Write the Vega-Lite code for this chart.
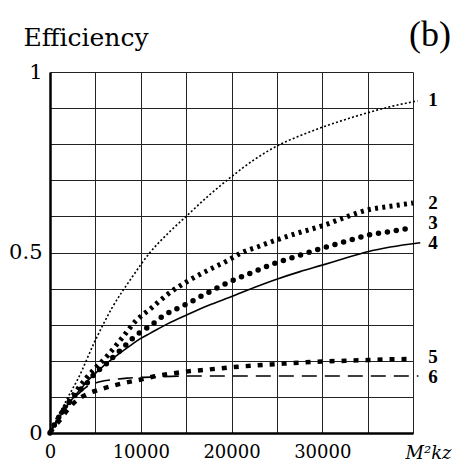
{
  "$schema": "https://vega.github.io/schema/vega-lite/v6.json",
  "width": 363,
  "height": 361,
  "autosize": "none",
  "padding": {"left": 50, "top": 72, "right": 43, "bottom": 30},
  "background": "white",
  "config": {
    "view": {"stroke": null},
    "axis": {"labelFont": "DejaVu Serif", "titleFont": "DejaVu Serif"}
  },
  "title": {"text": "(b)", "anchor": "end", "fontSize": 36, "fontWeight": "normal", "font": "serif", "color": "black", "offset": -29},
  "datasets": {
    "curves": [
      {"s": "1", "x": 0, "y": 0}, {"s": "1", "x": 1000, "y": 0.05}, {"s": "1", "x": 2000, "y": 0.1}, {"s": "1", "x": 3120, "y": 0.152}, {"s": "1", "x": 4960, "y": 0.255}, {"s": "1", "x": 6800, "y": 0.345}, {"s": "1", "x": 9000, "y": 0.43}, {"s": "1", "x": 11020, "y": 0.5}, {"s": "1", "x": 13000, "y": 0.553}, {"s": "1", "x": 15000, "y": 0.6}, {"s": "1", "x": 17500, "y": 0.658}, {"s": "1", "x": 20000, "y": 0.71}, {"s": "1", "x": 22500, "y": 0.757}, {"s": "1", "x": 25000, "y": 0.795}, {"s": "1", "x": 27500, "y": 0.823}, {"s": "1", "x": 30000, "y": 0.847}, {"s": "1", "x": 32500, "y": 0.868}, {"s": "1", "x": 35000, "y": 0.887}, {"s": "1", "x": 37500, "y": 0.904}, {"s": "1", "x": 40500, "y": 0.92},
      {"s": "2", "x": 0, "y": 0}, {"s": "2", "x": 1000, "y": 0.045}, {"s": "2", "x": 2000, "y": 0.085}, {"s": "2", "x": 3000, "y": 0.12}, {"s": "2", "x": 4000, "y": 0.152}, {"s": "2", "x": 5000, "y": 0.18}, {"s": "2", "x": 6400, "y": 0.216}, {"s": "2", "x": 7900, "y": 0.262}, {"s": "2", "x": 9550, "y": 0.313}, {"s": "2", "x": 11020, "y": 0.343}, {"s": "2", "x": 13000, "y": 0.385}, {"s": "2", "x": 15060, "y": 0.419}, {"s": "2", "x": 17500, "y": 0.452}, {"s": "2", "x": 19830, "y": 0.481}, {"s": "2", "x": 21000, "y": 0.498}, {"s": "2", "x": 23140, "y": 0.518}, {"s": "2", "x": 25000, "y": 0.535}, {"s": "2", "x": 27180, "y": 0.553}, {"s": "2", "x": 30000, "y": 0.574}, {"s": "2", "x": 32500, "y": 0.597}, {"s": "2", "x": 35000, "y": 0.618}, {"s": "2", "x": 37500, "y": 0.628}, {"s": "2", "x": 40000, "y": 0.637},
      {"s": "3", "x": 0, "y": 0}, {"s": "3", "x": 1000, "y": 0.045}, {"s": "3", "x": 2020, "y": 0.082}, {"s": "3", "x": 2940, "y": 0.11}, {"s": "3", "x": 4040, "y": 0.137}, {"s": "3", "x": 4960, "y": 0.165}, {"s": "3", "x": 6060, "y": 0.188}, {"s": "3", "x": 6980, "y": 0.211}, {"s": "3", "x": 8080, "y": 0.237}, {"s": "3", "x": 9000, "y": 0.26}, {"s": "3", "x": 10000, "y": 0.28}, {"s": "3", "x": 11000, "y": 0.296}, {"s": "3", "x": 12500, "y": 0.325}, {"s": "3", "x": 14880, "y": 0.355}, {"s": "3", "x": 17500, "y": 0.39}, {"s": "3", "x": 19830, "y": 0.419}, {"s": "3", "x": 22500, "y": 0.447}, {"s": "3", "x": 24980, "y": 0.472}, {"s": "3", "x": 27000, "y": 0.488}, {"s": "3", "x": 30000, "y": 0.512}, {"s": "3", "x": 32500, "y": 0.53}, {"s": "3", "x": 35000, "y": 0.548}, {"s": "3", "x": 37500, "y": 0.558}, {"s": "3", "x": 40000, "y": 0.569},
      {"s": "4", "x": 0, "y": 0}, {"s": "4", "x": 1000, "y": 0.042}, {"s": "4", "x": 2000, "y": 0.08}, {"s": "4", "x": 3120, "y": 0.114}, {"s": "4", "x": 4000, "y": 0.14}, {"s": "4", "x": 5000, "y": 0.165}, {"s": "4", "x": 6000, "y": 0.188}, {"s": "4", "x": 7000, "y": 0.208}, {"s": "4", "x": 8000, "y": 0.227}, {"s": "4", "x": 9000, "y": 0.245}, {"s": "4", "x": 10000, "y": 0.262}, {"s": "4", "x": 11020, "y": 0.276}, {"s": "4", "x": 13000, "y": 0.303}, {"s": "4", "x": 15060, "y": 0.327}, {"s": "4", "x": 17500, "y": 0.354}, {"s": "4", "x": 20020, "y": 0.378}, {"s": "4", "x": 22500, "y": 0.403}, {"s": "4", "x": 24980, "y": 0.426}, {"s": "4", "x": 27550, "y": 0.447}, {"s": "4", "x": 30000, "y": 0.465}, {"s": "4", "x": 32500, "y": 0.484}, {"s": "4", "x": 35000, "y": 0.502}, {"s": "4", "x": 37500, "y": 0.515}, {"s": "4", "x": 40800, "y": 0.527},
      {"s": "5", "x": 0, "y": 0}, {"s": "5", "x": 500, "y": 0.018}, {"s": "5", "x": 1100, "y": 0.036}, {"s": "5", "x": 1800, "y": 0.06}, {"s": "5", "x": 2570, "y": 0.082}, {"s": "5", "x": 3860, "y": 0.105}, {"s": "5", "x": 5320, "y": 0.119}, {"s": "5", "x": 6800, "y": 0.13}, {"s": "5", "x": 8260, "y": 0.139}, {"s": "5", "x": 10000, "y": 0.148}, {"s": "5", "x": 11200, "y": 0.155}, {"s": "5", "x": 13000, "y": 0.163}, {"s": "5", "x": 15000, "y": 0.17}, {"s": "5", "x": 17500, "y": 0.176}, {"s": "5", "x": 20000, "y": 0.182}, {"s": "5", "x": 22500, "y": 0.187}, {"s": "5", "x": 25000, "y": 0.191}, {"s": "5", "x": 27500, "y": 0.195}, {"s": "5", "x": 30000, "y": 0.198}, {"s": "5", "x": 32500, "y": 0.2}, {"s": "5", "x": 35000, "y": 0.202}, {"s": "5", "x": 37500, "y": 0.204}, {"s": "5", "x": 40000, "y": 0.205},
      {"s": "6", "x": 0, "y": 0}, {"s": "6", "x": 1000, "y": 0.045}, {"s": "6", "x": 2000, "y": 0.08}, {"s": "6", "x": 2500, "y": 0.095}, {"s": "6", "x": 3200, "y": 0.11}, {"s": "6", "x": 4050, "y": 0.128}, {"s": "6", "x": 4600, "y": 0.135}, {"s": "6", "x": 5500, "y": 0.142}, {"s": "6", "x": 7000, "y": 0.148}, {"s": "6", "x": 8500, "y": 0.152}, {"s": "6", "x": 10000, "y": 0.154}, {"s": "6", "x": 12500, "y": 0.156}, {"s": "6", "x": 15000, "y": 0.158}, {"s": "6", "x": 20000, "y": 0.158}, {"s": "6", "x": 25000, "y": 0.158}, {"s": "6", "x": 30000, "y": 0.158}, {"s": "6", "x": 35000, "y": 0.158}, {"s": "6", "x": 40600, "y": 0.158}
    ],
    "labels": [
      {"s": "1", "x": 40000, "y": 0.922},
      {"s": "2", "x": 40000, "y": 0.637},
      {"s": "3", "x": 40000, "y": 0.582},
      {"s": "4", "x": 40000, "y": 0.527},
      {"s": "5", "x": 40000, "y": 0.21},
      {"s": "6", "x": 40000, "y": 0.155}
    ]
  },
  "encoding": {
    "x": {"field": "x", "type": "quantitative", "scale": {"domain": [0, 40000], "nice": false, "zero": true},
      "axis": {"values": [0, 5000, 10000, 15000, 20000, 25000, 30000, 35000, 40000],
        "labelExpr": "(datum.value % 10000 == 0 && datum.value < 40000) ? format(datum.value, 'd') : ''",
        "grid": true, "gridColor": "#222", "gridWidth": 1, "gridOpacity": 1,
        "ticks": false, "domainColor": "black", "domainWidth": 2.5,
        "labelFont": "DejaVu Serif", "labelColor": "black",
        "labelFontSize": 18, "labelPadding": 10, "labelFlush": false,
        "title": "M²kz", "titleFont": "DejaVu Serif", "titleColor": "black",
        "titleFontSize": 18, "titleFontStyle": "italic", "titleFontWeight": "normal",
        "titleX": 378, "titleY": 11, "titleAlign": "center"}},
    "y": {"field": "y", "type": "quantitative", "scale": {"domain": [0, 1], "nice": false},
      "axis": {"values": [0, 0.1, 0.2, 0.3, 0.4, 0.5, 0.6, 0.7, 0.8, 0.9, 1],
        "labelExpr": "datum.value == 0 ? '0' : (abs(datum.value - 0.5) < 0.001 ? '0.5' : (datum.value == 1 ? '1' : ''))",
        "grid": true, "gridColor": "#222", "gridWidth": 1, "gridOpacity": 1,
        "ticks": false, "domainColor": "black", "domainWidth": 2.5,
        "labelFont": "DejaVu Serif", "labelColor": "black",
        "labelFontSize": 21, "labelPadding": 8, "labelFlush": false,
        "title": "Efficiency", "titleFont": "DejaVu Serif", "titleColor": "black",
        "titleFontSize": 25, "titleFontWeight": "normal", "titleAngle": 0,
        "titleAlign": "left", "titleBaseline": "alphabetic", "titleX": -27, "titleY": -27}}
  },
  "layer": [
    {"data": {"name": "curves"}, "transform": [{"filter": "datum.s == '1'"}],
      "mark": {"type": "line", "color": "black", "strokeWidth": 1.6, "strokeDash": [2, 2.2], "interpolate": "monotone"}},
    {"data": {"name": "curves"}, "transform": [{"filter": "datum.s == '2'"}],
      "mark": {"type": "line", "color": "black", "strokeWidth": 5, "strokeDash": [3, 4.3], "interpolate": "monotone"}},
    {"data": {"name": "curves"}, "transform": [{"filter": "datum.s == '3'"}],
      "mark": {"type": "line", "color": "black", "strokeWidth": 5.5, "strokeDash": [0, 9], "strokeCap": "round", "interpolate": "monotone"}},
    {"data": {"name": "curves"}, "transform": [{"filter": "datum.s == '4'"}],
      "mark": {"type": "line", "color": "black", "strokeWidth": 1.6, "interpolate": "monotone"}},
    {"data": {"name": "curves"}, "transform": [{"filter": "datum.s == '5'"}],
      "mark": {"type": "line", "color": "black", "strokeWidth": 4.5, "strokeDash": [5, 7], "interpolate": "monotone"}},
    {"data": {"name": "curves"}, "transform": [{"filter": "datum.s == '6'"}],
      "mark": {"type": "line", "color": "black", "strokeWidth": 1.6, "strokeDash": [15, 8], "interpolate": "monotone"}},
    {"data": {"name": "labels"},
      "mark": {"type": "text", "color": "black", "fontSize": 19, "fontWeight": "bold", "font": "serif", "align": "center", "baseline": "middle", "dx": 20},
      "encoding": {"text": {"field": "s"}}}
  ]
}
